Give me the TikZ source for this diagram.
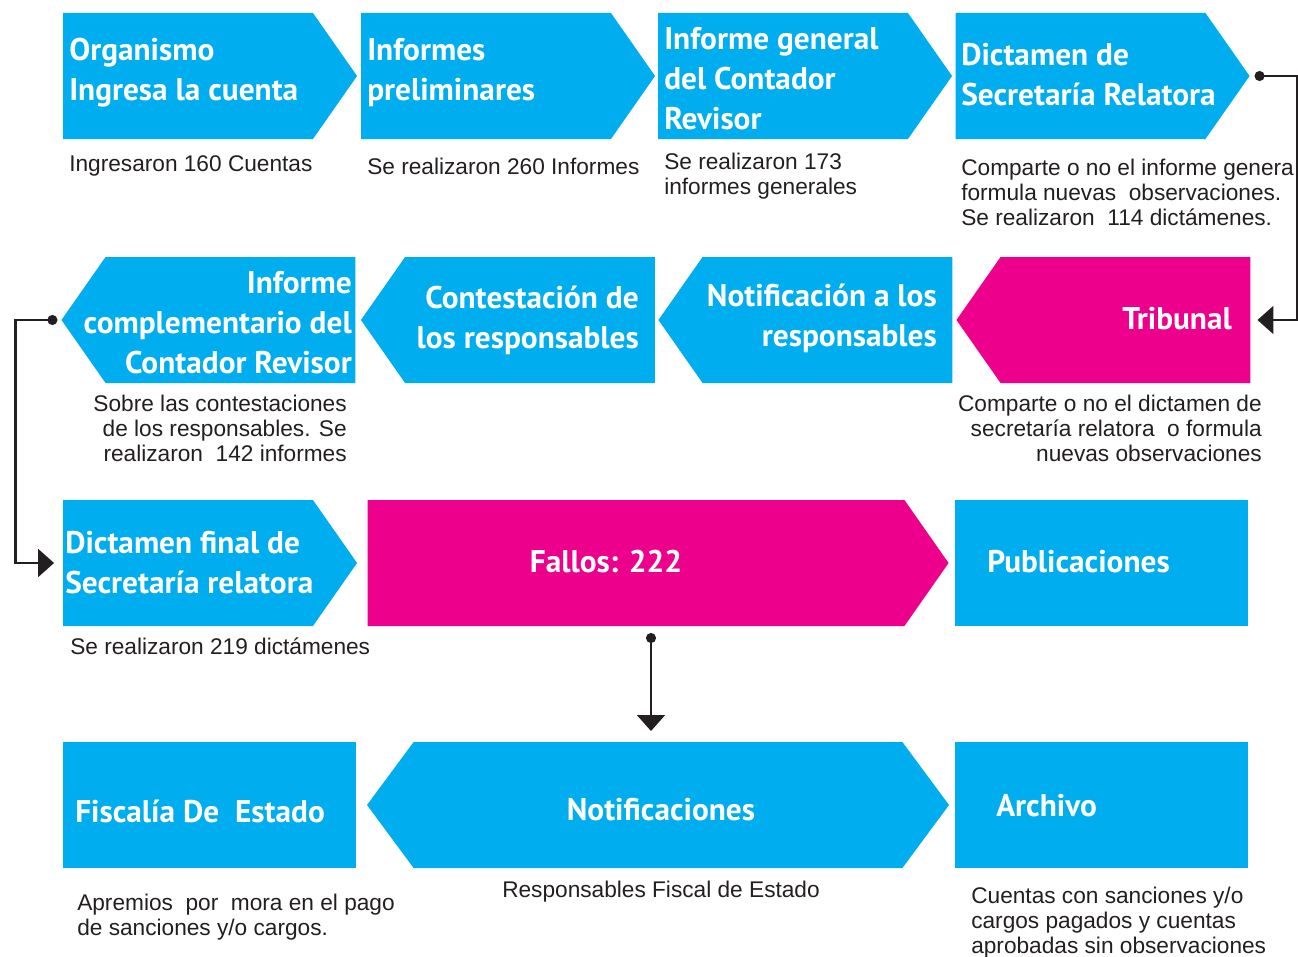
\documentclass[tikz,border=0pt]{standalone}
\usepackage{fontspec}
\setmainfont{Liberation Sans}
\newfontfamily\headfont{PT Sans}
\usetikzlibrary{shapes.symbols,arrows.meta,calc}
\definecolor{cian}{HTML}{00AEEF}
\definecolor{fucsia}{HTML}{EC008C}
\definecolor{texto}{HTML}{231F20}
\begin{document}
\begin{tikzpicture}[
    x=0.75pt, y=-0.75pt,
    stage/.style={signal, signal pointer angle=110, fill=cian, minimum width=220.5pt, minimum height=94.5pt, inner sep=0pt, outer sep=0pt},
    hot/.style={stage, fill=fucsia},
    plain/.style={rectangle, fill=cian, minimum width=219.75pt, minimum height=94.5pt, inner sep=0pt, outer sep=0pt},
    title/.style={text=white, font=\headfont\bfseries\fontsize{23.5}{30}\selectfont, inner sep=0pt},
    note/.style={text=texto, font=\fontsize{17}{18.75}\selectfont, inner sep=0pt},
    link/.style={draw=texto, line width=1.6pt, {Circle[length=7.5pt]}-{Triangle[length=12pt,width=21pt]}}
]
    \useasboundingbox (0,0) rectangle (1298,956);

    % --- fila 1 ---
    \node[stage, signal to=east] (org) at (188,76) {};
    \node[stage, signal to=east] (prel) at (486,76) {};
    \node[stage, signal to=east] (gen) at (783,76) {};
    \node[stage, signal to=east] (dict) at (1080.5,76) {};

    \node[title, anchor=west, align=left] (org-t) at (69,73) {Organismo\\Ingresa la cuenta};
    \node[title, anchor=west, align=left] (prel-t) at (367,73) {Informes\\preliminares};
    \node[title, anchor=west, align=left] (gen-t) at (664,78.5) {Informe general\\del Contador\\Revisor};
    \node[title, anchor=west, align=left] (dict-t) at (961,75) {Dictamen de\\Secretaría Relatora};

    \node[note, anchor=west, align=left] (org-n) at (69,166) {Ingresaron 160 Cuentas};
    \node[note, anchor=west, align=left] (prel-n) at (367,166) {Se realizaron 260 Informes};
    \node[note, anchor=west, align=left] (gen-n) at (664,176.5) {Se realizaron 173\\informes generales};
    \node[note, anchor=west, align=left] (dict-n) at (961,192) {Comparte o no el informe genera\\formula nuevas \ observaciones.\\Se realizaron \ 114 dictámenes.};

    % --- fila 2 ---
    \node[stage, signal to=west] (comp) at (230.5,320) {};
    \node[stage, signal to=west] (cont) at (530,320) {};
    \node[stage, signal to=west] (notr) at (827.5,320) {};
    \node[hot, signal to=west] (trib) at (1125.5,320) {};

    \node[title, anchor=east, align=right] (comp-t) at (352,322.5) {Informe \\complementario del\\Contador Revisor};
    \node[title, anchor=east, align=right] (cont-t) at (639,320.5) {Contestación de\\los responsables};
    \node[title, anchor=east, align=right] (notr-t) at (937,318.5) {Notificación a los\\responsables};
    \node[title, anchor=east, align=right] (trib-t) at (1232,319) {Tribunal};

    \node[note, anchor=east, align=right] (comp-n) at (347,428) {Sobre las contestaciones\\de los responsables. Se\\realizaron \ 142 informes};
    \node[note, anchor=east, align=right] (trib-n) at (1262,428) {Comparte o no el dictamen de\\secretaría relatora \ o formula\\nuevas observaciones};

    % --- fila 3 ---
    \node[stage, signal to=east] (fin) at (188,563) {};
    \node[hot, signal to=east, minimum width=435.75pt] (fall) at (636,563) {};
    \node[plain] (pub) at (1101.5,563) {};

    \node[title, anchor=west, align=left] (fin-t) at (65,563) {Dictamen final de\\Secretaría relatora};
    \node[title] (fall-t) at (606,562) {Fallos: 222};
    \node[title, anchor=west] (pub-t) at (987,562) {Publicaciones};

    \node[note, anchor=west] (fin-n) at (70,646) {Se realizaron 219 dictámenes};

    % --- fila 4 ---
    \node[plain] (fis) at (209.5,805) {};
    \node[stage, signal to=east and west, signal pointer angle=107, minimum width=436.5pt] (noti) at (658,805) {};
    \node[plain] (arch) at (1101.5,805) {};

    \node[title, anchor=west] (fis-t) at (75,811) {Fiscalía De \ Estado};
    \node[title] (noti-t) at (661,810) {Notificaciones};
    \node[title, anchor=west] (arch-t) at (996,806) {Archivo};

    \node[note, anchor=west, align=left] (fis-n) at (77,917) {Apremios \ por \ mora en el pago\\de sanciones y/o cargos.};
    \node[note] (noti-n) at (661,892) {Responsables Fiscal de Estado};
    \node[note, anchor=west, align=left] (arch-n) at (971,922.5) {Cuentas con sanciones y/o\\cargos pagados y cuentas\\aprobadas sin observaciones};

    % --- conectores ---
    \draw[link] ($(dict.east)+(5,0)$) -- ($(dict.east)+(47,0)$) |- ($(trib.east)+(7,0)$);
    \draw[link] ($(comp.west)+(-4,0)$) -- ($(comp.west)+(-46,0)$) |- ($(fin.west)+(-9,0)$);
    \draw[link] ($(fall.south)+(15,7)$) -- ($(noti.north)+(-7,-11)$);
\end{tikzpicture}
\end{document}
